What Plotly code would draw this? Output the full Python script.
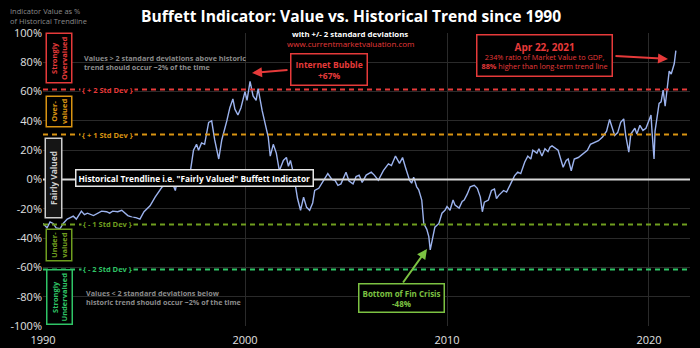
import plotly.graph_objects as go

# ---------------- data ----------------
years = [1990.0, 1990.2, 1990.35, 1990.5, 1990.65, 1990.85, 1991.0, 1991.2, 1991.35, 1991.5, 1991.65, 1991.9,
         1992.05, 1992.2, 1992.5, 1992.75, 1992.9, 1993.15, 1993.3, 1993.45, 1993.7, 1993.9, 1994.05, 1994.2,
         1994.4, 1994.6, 1994.8, 1995.0, 1995.3, 1995.55, 1995.9, 1996.05, 1996.3, 1996.55, 1996.7, 1996.95,
         1997.1, 1997.3, 1997.45, 1997.6, 1997.7, 1997.85, 1998.0, 1998.2, 1998.35, 1998.5, 1998.7, 1998.85,
         1999.1, 1999.25, 1999.4, 1999.5, 1999.65, 1999.8, 2000.0, 2000.1, 2000.25, 2000.4, 2000.55, 2000.65,
         2000.85, 2001.0, 2001.15, 2001.25, 2001.4, 2001.55, 2001.7, 2001.9, 2002.05, 2002.15, 2002.25, 2002.4,
         2002.5, 2002.6, 2002.75, 2002.9, 2003.05, 2003.2, 2003.35, 2003.45, 2003.65, 2003.9, 2004.1, 2004.3,
         2004.45, 2004.6, 2004.75, 2005.0, 2005.15, 2005.35, 2005.5, 2005.65, 2005.8, 2006.0, 2006.25, 2006.4,
         2006.6, 2006.85, 2007.1, 2007.25, 2007.45, 2007.65, 2007.8, 2007.95, 2008.15, 2008.25, 2008.35, 2008.5,
         2008.6, 2008.75, 2008.85, 2009.0, 2009.1, 2009.17, 2009.3, 2009.4, 2009.6, 2009.75, 2009.9, 2010.0,
         2010.15, 2010.3, 2010.4, 2010.6, 2010.75, 2010.85, 2011.0, 2011.15, 2011.35, 2011.5, 2011.65, 2011.75,
         2011.85, 2012.05, 2012.2, 2012.35, 2012.45, 2012.55, 2012.8, 2012.95, 2013.15, 2013.35, 2013.5, 2013.65,
         2013.85, 2014.0, 2014.15, 2014.25, 2014.45, 2014.55, 2014.7, 2014.85, 2015.0, 2015.1, 2015.2, 2015.4,
         2015.5, 2015.65, 2015.75, 2015.9, 2016.0, 2016.15, 2016.3, 2016.5, 2016.7, 2016.95, 2017.1, 2017.3,
         2017.5, 2017.7, 2017.9, 2018.05, 2018.15, 2018.3, 2018.45, 2018.6, 2018.75, 2018.85, 2019.0, 2019.1,
         2019.3, 2019.4, 2019.55, 2019.7, 2019.85, 2020.0, 2020.1, 2020.15, 2020.25, 2020.3, 2020.45, 2020.5,
         2020.6, 2020.7, 2020.8, 2020.9, 2021.0, 2021.1, 2021.15, 2021.25, 2021.33]
values = [-30, -33, -29, -30, -33, -33.5, -30, -27, -26, -25, -27, -21.6,
          -24, -23, -24.6, -23, -21.6, -22, -23, -21.6, -22, -21, -23, -24.6,
          -25.7, -26, -27, -22, -18, -12, -5, -4, 1.6, -7.5, 3, 6,
          6, 6, 20, 24, 20, 25, 24, 39, 40, 27, 14, 27,
          40, 49, 55, 48, 44, 49, 60, 54, 67, 57, 54, 62,
          47, 38, 29, 16, 24, 18, 6, 13, 15, 9, 13, 4,
          -5, -13, -21, -12, -19, -21, -16, -7.5, -6, -0.7, 4, 0,
          -0.5, -4, -3, 5, -1, -3, 2, 3, -2, 3, 5, 3,
          -0.5, 6, 10.7, 9.5, 16, 11, 15, 8, -0.7, -2.5, 1.6, -5,
          -7, -14, -30, -34, -39, -48, -39, -32.5, -30, -23, -21, -18.5,
          -21, -14, -17.5, -19.5, -15, -14, -10, -5, -4, -6, -12, -22,
          -15.5, -14, -7.5, -6.5, -13, -11, -7.5, -8.6, -3, 2.7, 5, 4,
          12, 16, 14, 20, 18, 21, 16, 21, 19, 22, 23, 21,
          20, 13, 8.4, 13, 14, 6, 14, 15, 17, 20, 24, 25.5,
          26.5, 29, 33, 41, 36, 30, 32, 39, 41.4, 30, 18.7, 31,
          35, 31, 37, 33.5, 35, 41, 44, 33, 14, 33, 47, 52,
          53, 61, 50, 61, 74, 72, 74, 79, 88]

std_levels = [61.4, 30.7, -30.7, -61.4]
std_labels = ["{ + 2 Std Dev }", "{ + 1 Std Dev }", "{ - 1 Std Dev }", "{ - 2 Std Dev }"]
std_colors = ["#e63a3a", "#d99412", "#6f9e1f", "#2fc466"]
y_ticks = [100, 80, 60, 40, 20, 0, -20, -40, -60, -80, -100]
y_tick_text = ["100%", "80%", "60%", "40%", "20%", "0%", "-20%", "-40%", "-60%", "-80%", "-100%"]
x_ticks = [1990, 2000, 2010, 2020]

# ---------------- layout helpers ----------------
W, H = 700, 348
L, R, T, B = 43, 10, 33, 22
PW, PH = W - L - R, H - T - B


def px(x):
    return (x - L) / PW


def py(y):
    return (H - B - y) / PH


FONT = "Open Sans"
RED = "#e63a3a"
LINE = "#9cb3ee"

fig = go.Figure()
fig.add_trace(go.Scatter(x=years, y=values, mode="lines",
                         line=dict(color=LINE, width=1.4), hoverinfo="skip", showlegend=False))

shapes = []
annotations = []

# std dev lines
for lvl, lab, col in zip(std_levels, std_labels, std_colors):
    shapes.append(dict(type="line", xref="paper", x0=0, x1=1, yref="y", y0=lvl, y1=lvl,
                       line=dict(color=col, width=2, dash="5px,4px")))
    annotations.append(dict(xref="paper", x=px(107), yref="y", y=lvl, text="<b>" + lab + "</b>",
                            showarrow=False, bgcolor="black", borderpad=1,
                            font=dict(family=FONT, size=7.5, color=col)))

# zero trend line
shapes.append(dict(type="line", xref="paper", x0=0, x1=1, yref="y", y0=0, y1=0,
                   line=dict(color="#d8d8d8", width=2)))


def vbox(cx, cy, text, col, bg="black", pad=2, size=7.5, width=None):
    a = dict(xref="paper", yref="paper", x=px(cx), y=py(cy), text="<b>" + text + "</b>",
             textangle=-90, showarrow=False, bgcolor=bg, bordercolor=col, borderwidth=1.5,
             borderpad=pad, font=dict(family=FONT, size=size, color=col))
    if width:
        a["width"] = width
    annotations.append(a)


vbox(59, 58.5, "Strongly<br>Overvalued", RED)
vbox(59, 111.5, "Over-<br>valued", "#d99412")
vbox(54, 178.5, "Fairly Valued", "#cfcfcf", bg="#151515", size=8.3, width=74)
vbox(58.5, 245, "Under-<br>valued", "#6f9e1f")
vbox(59.5, 297.5, "Strongly<br>Undervalued", "#2fc466")

# gray notes
annotations.append(dict(xref="paper", yref="paper", x=px(82), y=py(62), xanchor="left", align="left",
                        text="<b>Values &gt; 2 standard deviations above historic<br>trend should occur ~2% of the time</b>",
                        showarrow=False, font=dict(family=FONT, size=7.2, color="#8c8c8c")))
annotations.append(dict(xref="paper", yref="paper", x=px(84), y=py(297), xanchor="left", align="left",
                        text="<b>Values &lt; 2 standard deviations below<br>historic trend should occur ~2% of the time</b>",
                        showarrow=False, font=dict(family=FONT, size=7.2, color="#8c8c8c")))

# trendline label
annotations.append(dict(xref="paper", yref="paper", x=px(194.5), y=py(178.5),
                        text="<b>Historical Trendline i.e. \"Fairly Valued\" Buffett Indicator</b>",
                        showarrow=False, bgcolor="black", bordercolor="#e6e6e6", borderwidth=1.5, borderpad=2,
                        font=dict(family=FONT, size=8.3, color="white")))


def arrow(hx, hy, tx, ty, col):
    annotations.append(dict(xref="paper", yref="paper", x=px(hx), y=py(hy), axref="pixel", ayref="pixel",
                            ax=tx - hx, ay=ty - hy, text="", showarrow=True,
                            arrowhead=2, arrowsize=1, arrowwidth=2, arrowcolor=col))


# Internet bubble
annotations.append(dict(xref="paper", yref="paper", x=px(329), y=py(69),
                        text="<b>Internet Bubble<br>+67%</b>", showarrow=False,
                        bgcolor="black", bordercolor=RED, borderwidth=1.5, borderpad=4,
                        font=dict(family=FONT, size=8.5, color=RED)))
arrow(252, 73, 289, 70, RED)

# Apr 2021 box
annotations.append(dict(xref="paper", yref="paper", x=px(544.5), y=py(56),
                        text="<b><span style='font-size:10px'>Apr 22, 2021</span></b><br>"
                             "234% ratio of Market Value to GDP,<br><b>88%</b> higher than long-term trend line",
                        showarrow=False, bgcolor="black", bordercolor=RED, borderwidth=1.5, borderpad=4,
                        font=dict(family=FONT, size=7.3, color=RED)))
arrow(668, 59, 614, 56, RED)

# Fin crisis
GREEN = "#7cc242"
annotations.append(dict(xref="paper", yref="paper", x=px(401.5), y=py(297.5),
                        text="<b>Bottom of Fin Crisis<br>-48%</b>", showarrow=False,
                        bgcolor="black", bordercolor=GREEN, borderwidth=1.5, borderpad=3,
                        font=dict(family=FONT, size=8, color=GREEN)))
arrow(427, 249, 402, 284, GREEN)

# header texts
annotations.append(dict(xref="paper", yref="paper", x=px(8), y=py(15.5), xanchor="left", align="left",
                        text="Indicator Value as %<br>of Historical Trendline", showarrow=False,
                        font=dict(family=FONT, size=7.5, color="#8a8a8a")))
annotations.append(dict(xref="paper", yref="paper", x=px(351), y=py(16),
                        text="<b>Buffett Indicator: Value vs. Historical Trend since 1990</b>", showarrow=False,
                        font=dict(family=FONT, size=15.6, color="white")))
annotations.append(dict(xref="paper", yref="paper", x=px(350), y=py(33.5),
                        text="<b>with +/- 2 standard deviations</b>", showarrow=False,
                        font=dict(family=FONT, size=7.8, color="white")))
annotations.append(dict(xref="paper", yref="paper", x=px(350), y=py(43.5),
                        text="www.currentmarketvaluation.com", showarrow=False,
                        font=dict(family=FONT, size=8, color=RED)))

for a in annotations:
    a.setdefault("yanchor", "middle")
    if not a.get("showarrow"):
        a.setdefault("xanchor", "center")

fig.update_layout(
    width=W, height=H, margin=dict(l=L, r=R, t=T, b=B, autoexpand=False),
    paper_bgcolor="black", plot_bgcolor="black",
    shapes=shapes, annotations=annotations, showlegend=False,
    xaxis=dict(range=[1990, 2022.03], tickvals=x_ticks, ticktext=[str(v) for v in x_ticks],
               showgrid=True, gridcolor="#2a2a2a", gridwidth=1, zeroline=False, showline=False,
               ticklabelstandoff=6, automargin=False,
               tickfont=dict(family=FONT, size=11, color="#e0e0e0"), ticks="", fixedrange=True),
    yaxis=dict(range=[-100, 100], tickvals=y_ticks, ticktext=y_tick_text, automargin=False,
               showgrid=True, gridcolor="#2a2a2a", gridwidth=1, zeroline=False, showline=False,
               tickfont=dict(family=FONT, size=11, color="#e0e0e0"), ticks="", fixedrange=True),
)

fig.write_html("out.html", config={"displayModeBar": False})
